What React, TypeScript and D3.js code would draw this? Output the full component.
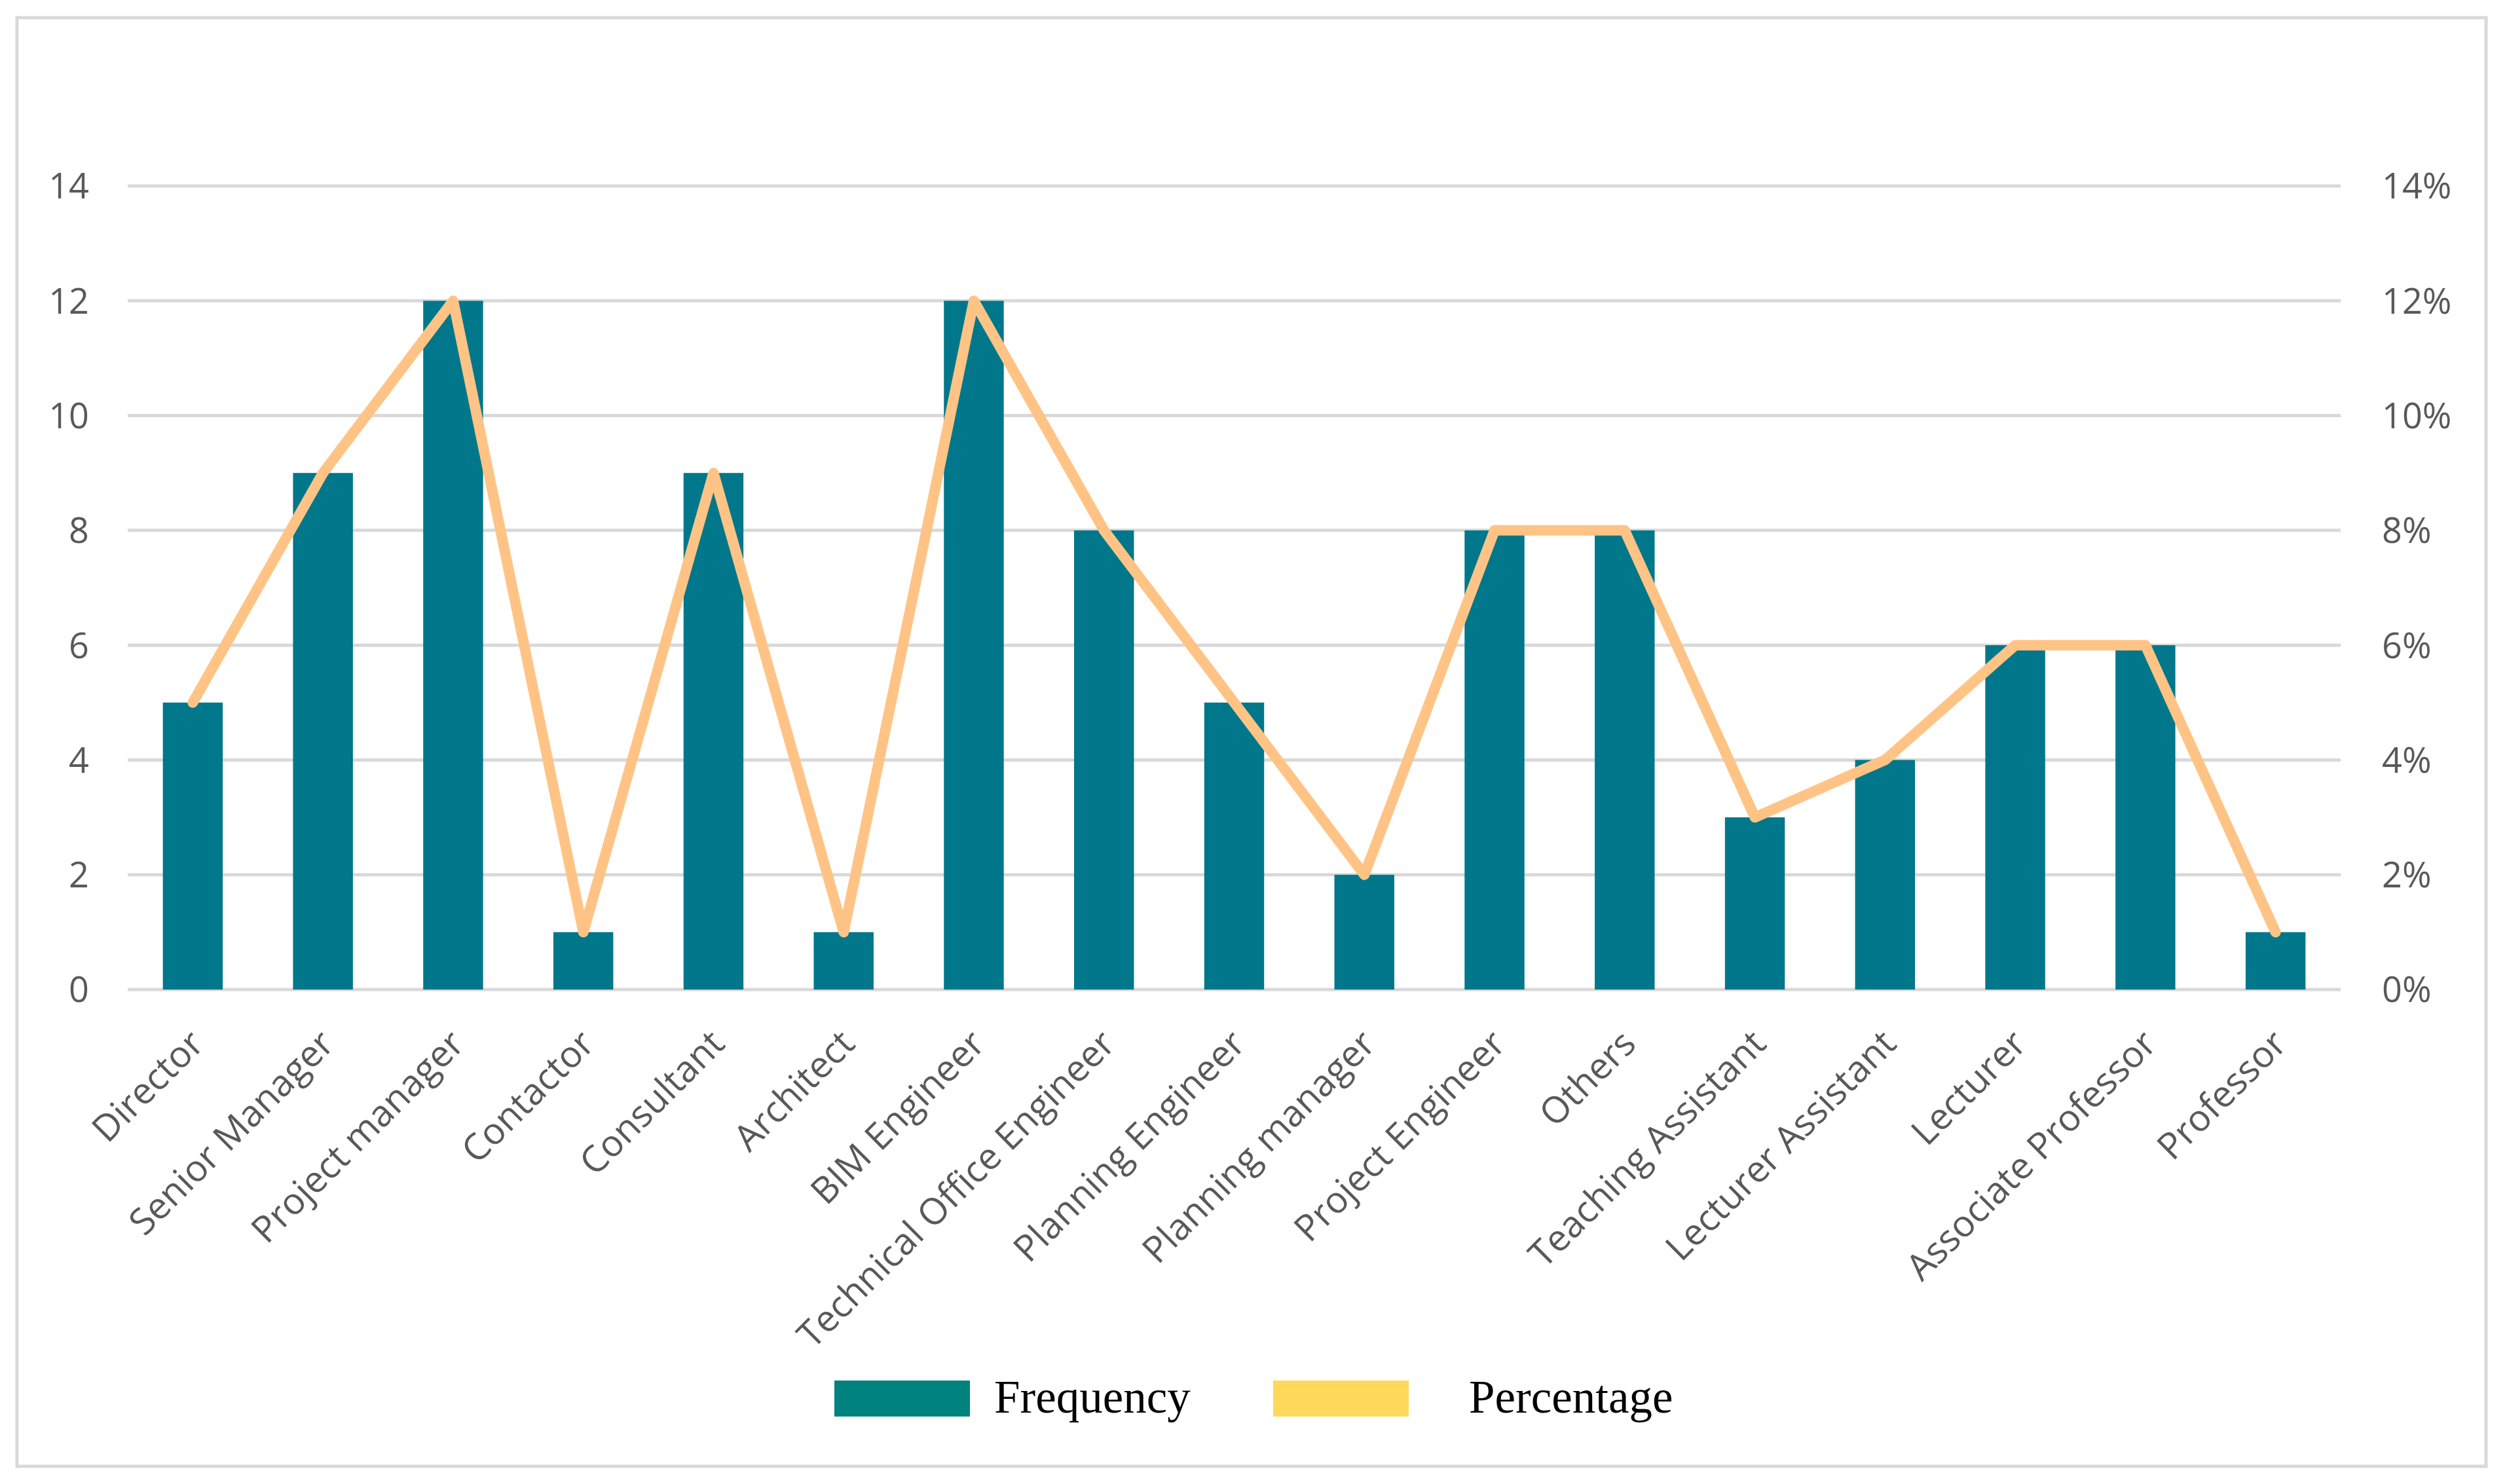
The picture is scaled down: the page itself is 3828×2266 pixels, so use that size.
import { useEffect, useRef } from "react"
import * as d3 from "d3"

const categories = [
  "Director",
  "Senior Manager",
  "Project manager",
  "Contactor",
  "Consultant",
  "Architect",
  "BIM Engineer",
  "Technical Office Engineer",
  "Planning Engineer",
  "Planning manager",
  "Project Engineer",
  "Others",
  "Teaching Assistant",
  "Lecturer Assistant",
  "Lecturer",
  "Associate Professor",
  "Professor"
]
const frequency = [5, 9, 12, 1, 9, 1, 12, 8, 5, 2, 8, 8, 3, 4, 6, 6, 1]
const percentage = [0.05, 0.09, 0.12, 0.01, 0.09, 0.01, 0.12, 0.08, 0.05, 0.02, 0.08, 0.08, 0.03, 0.04, 0.06, 0.06, 0.01]
const leftTicks = [0, 2, 4, 6, 8, 10, 12, 14]
const rightTicks = [0, 0.02, 0.04, 0.06, 0.08, 0.1, 0.12, 0.14]
const legendItems = [
  { label: "Frequency", color: "#00827f" },
  { label: "Percentage", color: "#ffd95c" }
]

const W = 3828
const H = 2266

export default function App() {
  const svgRef = useRef<SVGSVGElement>(null)

  useEffect(() => {
    document.body.style.margin = "0"
    if (!svgRef.current) return
    const svg = d3.select(svgRef.current)
    svg.selectAll("*").remove()

    const left = 195
    const right = 3574
    const top = 284
    const bottom = 1511
    const font = "'Open Sans', sans-serif"

    svg.append("rect")
      .attr("width", W)
      .attr("height", H)
      .attr("fill", "#fff")

    // outer frame
    svg.append("rect")
      .attr("x", 26)
      .attr("y", 27)
      .attr("width", 3770)
      .attr("height", 2212)
      .attr("fill", "none")
      .attr("stroke", "#d9d9d9")
      .attr("stroke-width", 5)

    const x = d3.scaleBand().domain(categories).range([left, right]).paddingInner(0.54).paddingOuter(0.27)
    const y = d3.scaleLinear().domain([0, 14]).range([bottom, top])
    const y2 = d3.scaleLinear().domain([0, 0.14]).range([bottom, top])
    const cx = (d: string) => (x(d) || 0) + x.bandwidth() / 2

    // Grid lines
    svg.append("g")
      .selectAll("line")
      .data(leftTicks)
      .enter()
      .append("line")
      .attr("x1", left)
      .attr("x2", right)
      .attr("y1", d => y(d))
      .attr("y2", d => y(d))
      .attr("stroke", "#d9d9d9")
      .attr("stroke-width", 5)

    // Left axis labels
    svg.append("g")
      .selectAll("text")
      .data(leftTicks)
      .enter()
      .append("text")
      .attr("x", 136)
      .attr("y", d => y(d))
      .attr("dy", "0.36em")
      .attr("text-anchor", "end")
      .style("font-family", font)
      .style("font-size", "54px")
      .style("fill", "#595959")
      .text(d => d)

    // Right axis labels
    svg.append("g")
      .selectAll("text")
      .data(rightTicks)
      .enter()
      .append("text")
      .attr("x", 3637)
      .attr("y", d => y2(d))
      .attr("dy", "0.36em")
      .style("font-family", font)
      .style("font-size", "54px")
      .style("fill", "#595959")
      .text(d => d3.format(".0%")(d))

    // Bars
    svg.append("g")
      .selectAll("rect")
      .data(categories)
      .enter()
      .append("rect")
      .attr("x", d => x(d) || 0)
      .attr("width", x.bandwidth())
      .attr("y", (d, i) => y(frequency[i]))
      .attr("height", (d, i) => bottom - y(frequency[i]))
      .attr("fill", "#00778a")

    // Percentage line
    const line = d3.line<number>()
      .x((d, i) => cx(categories[i]))
      .y(d => y2(d))

    svg.append("path")
      .datum(percentage)
      .attr("fill", "none")
      .attr("stroke", "#ffc485")
      .attr("stroke-width", 16)
      .attr("stroke-linejoin", "round")
      .attr("stroke-linecap", "round")
      .attr("d", line)

    // Category labels
    svg.append("g")
      .selectAll("text")
      .data(categories)
      .enter()
      .append("text")
      .attr("transform", d => `translate(${cx(d) + 20},${bottom + 86}) rotate(-45)`)
      .attr("text-anchor", "end")
      .style("font-family", font)
      .style("font-size", "56px")
      .style("fill", "#595959")
      .text(d => d)

    // Legend
    const legendX = [1274, 1944]
    const textX = [1518, 2243]
    legendItems.forEach((item, i) => {
      svg.append("rect")
        .attr("x", legendX[i])
        .attr("y", 2108)
        .attr("width", 207)
        .attr("height", 55)
        .attr("fill", item.color)
      svg.append("text")
        .attr("x", textX[i])
        .attr("y", 2157)
        .style("font-family", "'Liberation Serif', 'Times New Roman', serif")
        .style("font-size", "71px")
        .style("fill", "#000")
        .text(item.label)
    })
  }, [])

  return <svg ref={svgRef} width={W} height={H} style={{ display: "block" }} />
}
